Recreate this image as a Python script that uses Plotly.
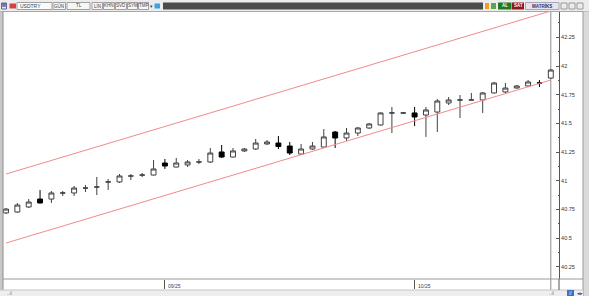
import plotly.graph_objects as go

# ---------------- data ----------------
dates = [
    "2025-08-12", "2025-08-13", "2025-08-14", "2025-08-15",
    "2025-08-18", "2025-08-19", "2025-08-20", "2025-08-21", "2025-08-22",
    "2025-08-25", "2025-08-26", "2025-08-27", "2025-08-28", "2025-08-29",
    "2025-09-01", "2025-09-02", "2025-09-03", "2025-09-04", "2025-09-05",
    "2025-09-08", "2025-09-09", "2025-09-10", "2025-09-11", "2025-09-12",
    "2025-09-15", "2025-09-16", "2025-09-17", "2025-09-18", "2025-09-19",
    "2025-09-22", "2025-09-23", "2025-09-24", "2025-09-25", "2025-09-26",
    "2025-09-29", "2025-09-30", "2025-10-01", "2025-10-02", "2025-10-03",
    "2025-10-06", "2025-10-07", "2025-10-08", "2025-10-09", "2025-10-10",
    "2025-10-13", "2025-10-14", "2025-10-15", "2025-10-16", "2025-10-17",
]
opens = [40.720, 40.728, 40.772, 40.841, 40.841, 40.894, 40.894, 40.937, 40.946, 40.990,
         40.990, 41.042, 41.050, 41.050, 41.155, 41.120, 41.138, 41.164, 41.164, 41.251,
         41.207, 41.260, 41.277, 41.321, 41.329, 41.303, 41.233, 41.277, 41.294, 41.425,
         41.373, 41.416, 41.460, 41.486, 41.591, 41.591, 41.591, 41.573, 41.599, 41.678,
         41.704, 41.704, 41.704, 41.765, 41.774, 41.808, 41.826, 41.852, 41.895]
highs = [40.763, 40.807, 40.841, 40.920, 40.911, 40.911, 40.955, 40.963, 41.033, 41.016,
         41.059, 41.059, 41.068, 41.181, 41.190, 41.199, 41.181, 41.190, 41.286, 41.312,
         41.286, 41.286, 41.364, 41.355, 41.390, 41.338, 41.321, 41.338, 41.451, 41.434,
         41.460, 41.469, 41.503, 41.595, 41.643, 41.599, 41.643, 41.643, 41.713, 41.730,
         41.747, 41.765, 41.774, 41.861, 41.852, 41.834, 41.878, 41.878, 41.974]
lows = [40.711, 40.720, 40.763, 40.802, 40.807, 40.868, 40.868, 40.902, 40.876, 40.920,
        40.981, 41.007, 41.033, 41.046, 41.103, 41.116, 41.120, 41.146, 41.155, 41.199,
        41.203, 41.251, 41.268, 41.312, 41.277, 41.225, 41.225, 41.268, 41.290, 41.286,
        41.347, 41.390, 41.451, 41.482, 41.416, 41.582, 41.477, 41.382, 41.425, 41.660,
        41.547, 41.700, 41.591, 41.761, 41.765, 41.804, 41.817, 41.817, 41.887]
closes = [40.754, 40.789, 40.815, 40.807, 40.894, 40.894, 40.937, 40.937, 40.946, 40.990,
          41.042, 41.042, 41.050, 41.103, 41.129, 41.155, 41.164, 41.164, 41.242, 41.207,
          41.260, 41.277, 41.329, 41.338, 41.299, 41.242, 41.277, 41.303, 41.382, 41.373,
          41.416, 41.460, 41.495, 41.591, 41.591, 41.591, 41.556, 41.617, 41.695, 41.704,
          41.704, 41.704, 41.765, 41.852, 41.808, 41.826, 41.861, 41.852, 41.965]

y_tick_vals = [40.25, 40.5, 40.75, 41.0, 41.25, 41.5, 41.75, 42.0, 42.25]
y_tick_text = ["40.25", "40.5", "40.75", "41", "41.25", "41.5", "41.75", "42", "42.25"]
x_tick_dates = ["2025-09-01", "2025-10-01"]
x_tick_text = ["09/25", "10/25"]

channel_dates = ["2025-08-12", "2025-10-17"]
channel_upper = [41.059, 42.479]
channel_lower = [40.458, 41.878]

# ---------------- layout geometry (pixels) ----------------
W, H = 589, 296
PL, PR, PT, PB = 3, 559, 12, 279


def xp(px):
    return (px - PL) / (PR - PL)


def yp(py):
    return (PB - py) / (PB - PT)


idx = list(range(len(dates)))
x_tick_pos = [dates.index(d) for d in x_tick_dates]
channel_x = [dates.index(d) for d in channel_dates]

fig = go.Figure()

fig.add_trace(go.Scatter(x=channel_x, y=channel_upper, mode="lines",
                         line=dict(color="#f38a8a", width=1), hoverinfo="skip", showlegend=False))
fig.add_trace(go.Scatter(x=channel_x, y=channel_lower, mode="lines",
                         line=dict(color="#f38a8a", width=1), hoverinfo="skip", showlegend=False))

fig.add_trace(go.Candlestick(
    x=idx, open=opens, high=highs, low=lows, close=closes,
    text=dates, hoverinfo="text",
    increasing=dict(fillcolor="#ffffff", line=dict(color="#404040", width=1)),
    decreasing=dict(fillcolor="#000000", line=dict(color="#000000", width=1)),
    showlegend=False,
))

shapes = []
annotations = []


def rect(x0, y0, x1, y1, fill, line=None, lw=1):
    shapes.append(dict(type="rect", xref="paper", yref="paper",
                       x0=xp(x0), x1=xp(x1), y0=yp(y1), y1=yp(y0),
                       fillcolor=fill, line=dict(color=line or fill, width=lw if line else 0),
                       layer="above"))


def hline(x0, x1, y, color, w=1):
    shapes.append(dict(type="line", xref="paper", yref="paper",
                       x0=xp(x0), x1=xp(x1), y0=yp(y), y1=yp(y),
                       line=dict(color=color, width=w), layer="above"))


def vline(x, y0, y1, color, w=1):
    shapes.append(dict(type="line", xref="paper", yref="paper",
                       x0=xp(x), x1=xp(x), y0=yp(y0), y1=yp(y1),
                       line=dict(color=color, width=w), layer="above"))


def text(x, y, s, size=5, color="#333333", anchor="center", bold=False):
    annotations.append(dict(xref="paper", yref="paper", x=xp(x), y=yp(y),
                            text=("<b>%s</b>" % s) if bold else s, showarrow=False,
                            xanchor=anchor, yanchor="middle",
                            font=dict(size=size, color=color, family="Liberation Sans"),
                            borderpad=0))


# top toolbar
rect(0, 0, 589, 11.5, "#ececec")
hline(0, 589, 11.5, "#a8a8a8")
rect(1.5, 3, 6.5, 9, "#dde4f4", "#5a6aa0")
text(4, 6, "M", 4.5, "#1a3a8a", bold=True)
rect(9.5, 3.5, 16, 8.5, "#d84040")
rect(17, 2.5, 52, 9.5, "#fbfbfb", "#a0a0a0")
text(19, 6, "USDTRY", 5, "#404040", anchor="left")
for x0, x1, s in [(53, 65.5, "GÜN"), (67, 90, "TL"), (92, 102.5, "LİN"), (103.5, 114.5, "KHN"),
                  (115.5, 126.5, "SVD"), (127.5, 137.5, "SYM"), (138.5, 148.5, "TMP")]:
    rect(x0, 2.5, x1, 9.5, "#f6f6f6", "#a0a0a0")
    text((x0 + x1) / 2, 6, s, 4.5, "#404040")
text(151, 6, "▾", 5, "#404040")
rect(154.5, 3.5, 160, 8.5, "#3aa3e3")
rect(163, 2.5, 483, 9.5, "#4b4b4b")
rect(485, 3, 489, 9, "#f0a020")
rect(491, 3, 496, 9, "#5aa45a")
rect(498, 2.5, 511.5, 9.5, "#1f7a1f")
text(504.8, 6, "AL", 4.5, "#ffffff", bold=True)
rect(512, 2.5, 524, 9.5, "#8b1a1a")
text(518, 6, "SAT", 4.5, "#ffffff", bold=True)
rect(525.5, 2.5, 559, 9.5, "#e4e4ec", "#a8a8b8")
text(542, 6, "MATRİKS", 4.5, "#2a2a7a", bold=True)
for x0 in (561, 569, 577):
    rect(x0, 3, x0 + 6, 9, "#ededed", "#9a9a9a")

# frame
rect(0, 11.5, 3, 290, "#c8c8c8")
vline(3, 11.5, 290, "#8c8c8c")
rect(583, 11.5, 589, 296, "#dadada")
vline(583, 11.5, 296, "#9a9a9a")
hline(3, 583, 279, "#9a9a9a")
rect(0, 290, 583, 296, "#eeeeee")
hline(0, 583, 290, "#c4c4c4")
vline(559, 279, 290, "#555555")
text(6, 293, "..ıl", 4.5, "#777777", anchor="left")
text(548, 293, "..ıl", 4.5, "#777777", anchor="left")
rect(567, 290, 574, 296, "#3a6fc4")
text(570.5, 293, "//", 4.5, "#ffffff")
text(580, 293, "◂▸", 4.5, "#1a3a8a")

# crosshair at the last bar
shapes.append(dict(type="line", xref="x", yref="paper", x0=idx[-1], x1=idx[-1],
                   y0=yp(290), y1=1, line=dict(color="#8c8c8c", width=1), layer="below"))

# x tick labels to the right of the tick
for pos, s in zip(x_tick_pos, x_tick_text):
    annotations.append(dict(xref="x", yref="paper", x=pos, y=yp(285.5), text=s,
                            showarrow=False, xanchor="left", yanchor="middle", xshift=1,
                            font=dict(size=5, color="#444444", family="Liberation Sans")))

spacing = 11.35
fig.update_layout(
    width=W, height=H,
    margin=dict(l=PL, r=W - PR, t=PT, b=H - PB, pad=0),
    paper_bgcolor="#ffffff", plot_bgcolor="#ffffff",
    boxgap=0.38,
    shapes=shapes, annotations=annotations,
    showlegend=False,
    xaxis=dict(range=[-(6 - PL) / spacing, (PR - 6) / spacing], showgrid=False, zeroline=False,
               rangeslider=dict(visible=False), tickmode="array", tickvals=x_tick_pos,
               ticktext=x_tick_text, showticklabels=False, ticks="outside", ticklen=9,
               tickcolor="#555555", tickwidth=1, showline=False, fixedrange=True),
    yaxis=dict(range=[42 - (PB - 66) / 114.8, 42 + (66 - PT) / 114.8], side="right",
               showgrid=False, zeroline=False, tickmode="array", tickvals=y_tick_vals,
               ticktext=y_tick_text, ticks="inside", ticklen=3, tickcolor="#555555",
               showline=True, linecolor="#555555", linewidth=1,
               tickfont=dict(size=5.5, color="#333333", family="Liberation Sans"),
               minor=dict(ticks="inside", ticklen=1.5, dtick=0.125, tick0=0, tickcolor="#555555"),
               fixedrange=True),
)

fig.write_html("out.html")
